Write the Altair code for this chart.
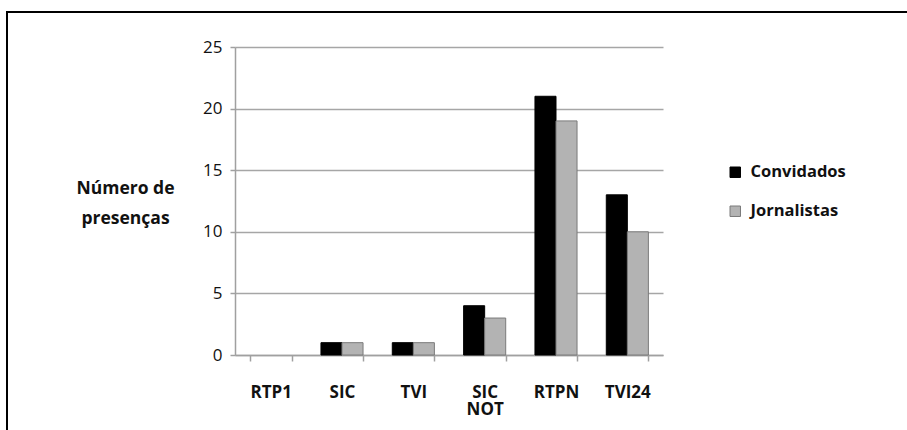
import altair as alt
import pandas as pd

canais = ["RTP1", "SIC", "TVI", "SIC NOT", "RTPN", "TVI24"]
convidados = [0, 1, 1, 4, 21, 13]
jornalistas = [0, 1, 1, 3, 19, 10]
series = ["Convidados", "Jornalistas"]

rows = []
for c, a, b in zip(canais, convidados, jornalistas):
    rows.append({"Canal": c, "Serie": series[0], "Valor": a})
    rows.append({"Canal": c, "Serie": series[1], "Valor": b})
df = pd.DataFrame(rows)

W, H = 428, 308
FONT = "Open Sans"

bars = alt.Chart(df).mark_bar(strokeWidth=1).encode(
    x=alt.X("Canal:N", sort=canais,
            scale=alt.Scale(paddingInner=0.41, paddingOuter=0.205),
            axis=alt.Axis(title=None, labelAngle=0, labelFontWeight="bold",
                          labelFontSize=17, labelFont=FONT, labelColor="#111",
                          labelPadding=23, tickBand="extent", tickSize=6,
                          tickColor="#a0a0a0", domainColor="#a0a0a0",
                          domainWidth=1.5, tickWidth=1.5,
                          labelExpr="split(datum.label, ' ')", labelLineHeight=17)),
    xOffset=alt.XOffset("Serie:N", sort=series, scale=alt.Scale(paddingInner=0, paddingOuter=0)),
    y=alt.Y("Valor:Q", scale=alt.Scale(domain=[0, 25]),
            axis=alt.Axis(values=[0, 5, 10, 15, 20, 25], title=["Número de", "presenças"],
                          titleAngle=0, titleAlign="center", titleBaseline="top",
                          titleX=-110, titleY=132, titleFontSize=17.5, titleFont=FONT,
                          titleFontWeight="bold", titleColor="#111", titleLineHeight=30,
                          labelFontSize=17, labelFont=FONT, labelColor="#111",
                          labelPadding=8, tickSize=5, tickColor="#a0a0a0",
                          domainColor="#a0a0a0", domainWidth=1.5, tickWidth=1.5,
                          gridColor="#a6a6a6", gridWidth=1.5)),
    color=alt.Color("Serie:N", sort=series,
                    scale=alt.Scale(domain=series, range=["#000000", "#b3b3b3"]),
                    legend=alt.Legend(title=None, orient="none", legendX=492, legendY=117,
                                      symbolType="square", symbolSize=110,
                                      symbolStrokeColor="#606060", symbolStrokeWidth=1,
                                      labelFontSize=16.5, labelFont=FONT,
                                      labelFontWeight="bold", labelColor="#111",
                                      rowPadding=22, labelOffset=7)),
    stroke=alt.Stroke("Serie:N", sort=series,
                      scale=alt.Scale(domain=series, range=["#000000", "#7a7a7a"]),
                      legend=None),
    strokeOpacity=alt.condition(alt.datum.Valor > 0, alt.value(1), alt.value(0)),
)

top_line = alt.Chart(df).mark_rule(stroke="#000000", strokeWidth=2).encode(
    x=alt.value(-229), x2=alt.value(W + 300), y=alt.value(-35),
)
left_line = alt.Chart(df).mark_rule(stroke="#000000", strokeWidth=2).encode(
    x=alt.value(-228), y=alt.value(-36), y2=alt.value(H + 150),
)

chart = alt.layer(top_line, left_line, bars).properties(
    width=W, height=H,
    autosize=alt.AutoSizeParams(type="none"),
    padding={"left": 235, "top": 47, "right": 244, "bottom": 75},
    background="white",
).configure_view(stroke=None)

chart.save("out.html", embed_options={"renderer": "svg", "actions": False})
